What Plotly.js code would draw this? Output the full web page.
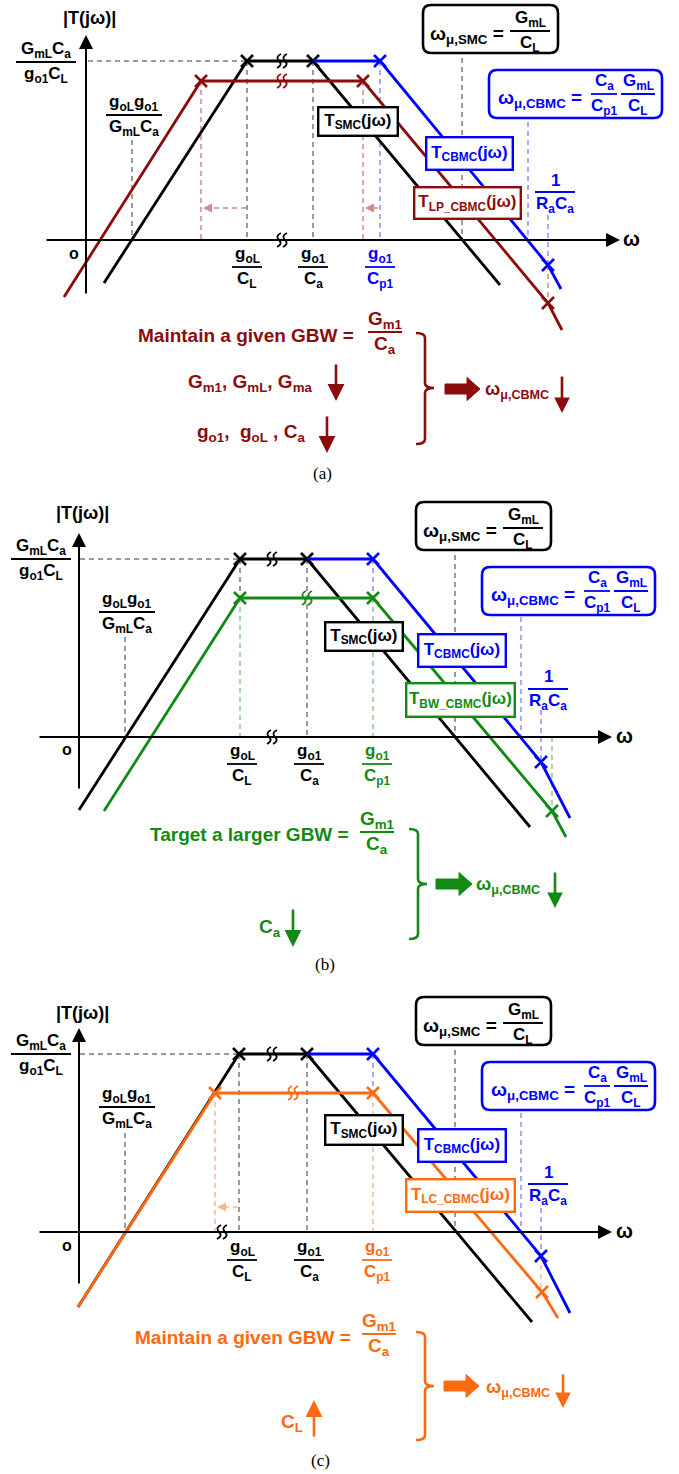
<!DOCTYPE html>
<html><head><meta charset="utf-8">
<script src="https://cdn.plot.ly/plotly-3.0.1.min.js"></script>
<style>html,body{margin:0;padding:0;background:#fff}#chart{width:679px;height:1474px}</style>
</head><body><div id="chart"></div>
<script>
const FONT = 'Liberation Sans Narrow, Liberation Sans, Arial, sans-serif';
const SERIF = 'Liberation Serif, Times New Roman, serif';

const K = '#000000', GRAY = '#7a7a7a';
const BLUE = '#0000ff', BLUE_L = '#8c8cff';
const RED = '#8c0c0c', RED_L = '#cc8c8c';
const GREEN = '#138a13', GREEN_L = '#8ccc8c';
const ORANGE = '#ff6a10', ORANGE_L = '#ffb48c';

// Asymptotic |T(jw)| curves: corner points, x = log-frequency units from the |T| axis,
// y = magnitude units above the w axis.
// (a) low-power design
const smcA_x = [18, 161, 227, 414];
const smcA_y = [-43, 179, 179, -45];
const cbmcA_x = [227, 294, 462, 475];
const cbmcA_y = [179, 179, -25, -49];
const lpA_x = [-22, 115, 277, 462, 476];
const lpA_y = [-57, 159, 159, -63, -90];
// (b) larger bandwidth
const smcB_x = [0, 161, 228, 451];
const smcB_y = [-73, 178, 178, -90];
const cbmcB_x = [228, 294, 462, 491];
const cbmcB_y = [178, 178, -25, -81];
const bwB_x = [25, 161, 294, 473, 487];
const bwB_y = [-74, 139, 139, -74, -100];
// (c) large load capacitance
const smcC_x = [-1, 160, 228, 453];
const smcC_y = [-75, 178, 178, -90];
const cbmcC_x = [228, 294, 462, 491];
const cbmcC_y = [178, 178, -24, -81];
const lcC_x = [-1, 136, 294, 463, 479];
const lcC_y = [-75, 139, 139, -60, -86];

// axis labels
const yTickNum = 'G<sub>mL</sub>C<sub>a</sub>', yTickDen = 'g<sub>o1</sub>C<sub>L</sub>';
const zeroNum = 'g<sub>oL</sub>g<sub>o1</sub>', zeroDen = 'G<sub>mL</sub>C<sub>a</sub>';
const xTickNum = ['g<sub>oL</sub>', 'g<sub>o1</sub>', 'g<sub>o1</sub>'];
const xTickDen = ['C<sub>L</sub>', 'C<sub>a</sub>', 'C<sub>p1</sub>'];
const curveNames = ['T<sub>SMC</sub>(jω)', 'T<sub>CBMC</sub>(jω)', 'T<sub>LP_CBMC</sub>(jω)', 'T<sub>BW_CBMC</sub>(jω)', 'T<sub>LC_CBMC</sub>(jω)'];

const traces = [], shapes = [], annos = [];
const xr = p => p === 1 ? 'x' : 'x' + p;
const yr = p => p === 1 ? 'y' : 'y' + p;

function seg(p, x0, y0, x1, y1, color, width, dash, layer) {
  shapes.push({type: 'line', xref: xr(p), yref: yr(p), x0, y0, x1, y1,
    line: {color, width, dash: dash || 'solid'}, layer: layer || 'below'});
}
function guide(p, x0, y0, x1, y1, color) { seg(p, x0, y0, x1, y1, color, 1.5, '5px,4px'); }
function label(p, x, y, t, size, color, extra) {
  annos.push(Object.assign({xref: xr(p), yref: yr(p), x, y, text: t, showarrow: false,
    font: {family: FONT, size, color}, xanchor: 'center', yanchor: 'middle'}, extra || {}));
}
function frac(p, xc, yl, num, den, color, size, hw) {
  label(p, xc, yl + 12, '<b>' + num + '</b>', size, color);
  label(p, xc, yl - 13, '<b>' + den + '</b>', size, color);
  seg(p, xc - hw, yl, xc + hw, yl, color, 1.8, 'solid', 'above');
}
function arrow(p, x0, y0, x1, y1, color, width, size) {
  annos.push({xref: xr(p), yref: yr(p), axref: xr(p), ayref: yr(p), x: x1, y: y1, ax: x0, ay: y0,
    text: '', showarrow: true, arrowhead: 2, arrowsize: size, arrowwidth: width, arrowcolor: color});
}
function dashArrow(p, x0, x1, y, color) {
  guide(p, x0, y, x1 + 4, y, color);
  arrow(p, x1 + 6, y, x1, y, color, 1.5, 1.2);
}
function curve(p, xs, ys, color, marks) {
  traces.push({x: xs, y: ys, xaxis: xr(p), yaxis: yr(p), mode: 'lines',
    line: {color, width: 2.8}, hoverinfo: 'skip', showlegend: false});
  traces.push({x: marks.map(i => xs[i]), y: marks.map(i => ys[i]), xaxis: xr(p), yaxis: yr(p),
    mode: 'markers', marker: {symbol: 'x-thin', size: 12, color, line: {width: 2.6, color}},
    hoverinfo: 'skip', showlegend: false});
}
function rrect(p, x0, y0, x1, y1, color) {
  const r = 8;
  const path = `M${x0 + r},${y0} L${x1 - r},${y0} Q${x1},${y0} ${x1},${y0 + r} L${x1},${y1 - r} Q${x1},${y1} ${x1 - r},${y1} ` +
    `L${x0 + r},${y1} Q${x0},${y1} ${x0},${y1 - r} L${x0},${y0 + r} Q${x0},${y0} ${x0 + r},${y0} Z`;
  shapes.push({type: 'path', xref: xr(p), yref: yr(p), path, line: {color, width: 2.6}, fillcolor: '#ffffff', layer: 'above'});
}
function boxLabel(p, x, y, w, h, t, color) {
  annos.push({xref: xr(p), yref: yr(p), x, y, text: '<b>' + t + '</b>', showarrow: false,
    font: {family: FONT, size: 17, color}, bgcolor: '#ffffff', bordercolor: color, borderwidth: 2.4,
    borderpad: 1, width: w - 5, height: h - 5, xanchor: 'center', yanchor: 'middle'});
}
function brace(p, x0, x1, tip, yt, ym, yb, color) {
  const r = 5;
  const path = `M${x0},${yt} Q${x1},${yt} ${x1},${yt - r} L${x1},${ym + r} Q${x1},${ym} ${tip},${ym} ` +
    `Q${x1},${ym} ${x1},${ym - r} L${x1},${yb + r} Q${x1},${yb} ${x0},${yb}`;
  shapes.push({type: 'path', xref: xr(p), yref: yr(p), path, line: {color, width: 2.6}, layer: 'above'});
}
function bigArrow(p, x0, x1, y, color) {
  const h = 5, H = 11.5, L = 13;
  const path = `M${x0},${y + h} L${x1 - L},${y + h} L${x1 - L},${y + H} L${x1},${y} L${x1 - L},${y - H} L${x1 - L},${y - h} L${x0},${y - h} Z`;
  shapes.push({type: 'path', xref: xr(p), yref: yr(p), path, fillcolor: color, line: {color, width: 1}, layer: 'above'});
}
function breakMark(p, cx, cy, color) {
  for (const dx of [-3, 3]) {
    const x = cx + dx;
    const path = `M${x + 2},${cy + 7} Q${x - 4},${cy + 4} ${x},${cy} Q${x + 4},${cy - 4} ${x - 2},${cy - 7}`;
    shapes.push({type: 'path', xref: xr(p), yref: yr(p), path, line: {color, width: 1.8}, layer: 'above'});
  }
}
function frame(p, xEnd, yLow, yTop, yLabel, yFracX) {
  arrow(p, -41, 0, xEnd, 0, K, 2, 1.4);
  arrow(p, 0, yLow, 0, yTop, K, 2, 1.4);
  label(p, 545, 1, '<b>ω</b>', 20, K);
  label(p, 3, yLabel, '<b>|T(jω)|</b>', 18, K);
  label(p, -12, -13, '<b>o</b>', 16, K);
  frac(p, yFracX, 178, yTickNum, yTickDen, K, 17, 30);
  frac(p, 48, 125, zeroNum, zeroDen, K, 17, 28);
}
function formulaBoxes(p) {
  rrect(p, 337, 187, 472, 235, K);
  label(p, 381, 205, '<b>ω<sub>μ,SMC</sub> =</b>', 19, K);
  frac(p, 444, 209, 'G<sub>mL</sub>', 'C<sub>L</sub>', K, 17, 20);
  rrect(p, 403, 122, 576, 170, BLUE);
  label(p, 454, 141, '<b>ω<sub>μ,CBMC</sub> =</b>', 19, BLUE);
  frac(p, 518, 146, 'C<sub>a</sub>', 'C<sub>p1</sub>', BLUE, 17, 13);
  frac(p, 552, 146, 'G<sub>mL</sub>', 'C<sub>L</sub>', BLUE, 17, 17);
  frac(p, 469, 48, '1', 'R<sub>a</sub>C<sub>a</sub>', BLUE, 17, 20);
}

/* ---------- (a) ---------- */
guide(1, 2, 179, 161, 179, GRAY);
guide(1, 46, 100, 46, 0, GRAY);
guide(1, 161, 179, 161, 0, GRAY);
guide(1, 227, 179, 227, 0, GRAY);
guide(1, 115, 159, 115, 0, RED_L);
guide(1, 277, 159, 277, 0, RED_L);
guide(1, 294, 179, 294, 0, BLUE_L);
guide(1, 376, 182, 376, 0, GRAY);
guide(1, 442, 118, 442, 0, BLUE_L);
guide(1, 462, 25, 462, -25, BLUE_L);
guide(1, 462, -25, 462, -63, RED_L);
dashArrow(1, 160, 117, 32, RED_L);
dashArrow(1, 292, 279, 32, RED_L);
curve(1, smcA_x, smcA_y, K, [1, 2]);
curve(1, cbmcA_x, cbmcA_y, BLUE, [1, 2]);
curve(1, lpA_x, lpA_y, RED, [1, 2, 3]);
breakMark(1, 196, 179, K);
breakMark(1, 196, 159, RED);
breakMark(1, 196, 0, K);
frame(1, 534, -55, 205, 222, -40);
[[161, K], [227, K], [294, BLUE]].forEach((t, i) => frac(1, t[0], -27, xTickNum[i], xTickDen[i], t[1], 17, 15));
formulaBoxes(1);
boxLabel(1, 272, 118.5, 80, 29, curveNames[0], K);
boxLabel(1, 383.5, 86.5, 87, 33, curveNames[1], BLUE);
boxLabel(1, 381.5, 37, 107, 32, curveNames[2], RED);
label(1, 160, -95, '<b>Maintain a given GBW =</b>', 19, RED);
frac(1, 299, -92, 'G<sub>m1</sub>', 'C<sub>a</sub>', RED, 19, 17);
label(1, 164, -143, '<b>G<sub>m1</sub>, G<sub>mL</sub>, G<sub>ma</sub></b>', 19, RED);
arrow(1, 250, -123, 250, -161, RED, 2.6, 1.3);
label(1, 165, -193, '<b>g<sub>o1</sub>,  g<sub>oL</sub> , C<sub>a</sub></b>', 19, RED);
arrow(1, 241, -175, 241, -213, RED, 2.6, 1.3);
brace(1, 330, 339, 348, -93, -148, -204, RED);
bigArrow(1, 359, 394, -149, RED);
label(1, 431, -150, '<b>ω<sub>μ,CBMC</sub></b>', 18, RED);
arrow(1, 476, -135, 476, -173, RED, 2.6, 1.2);
label(1, 236, -233, '(a)', 17, K, {font: {family: SERIF, size: 17, color: K}});

/* ---------- (b) ---------- */
guide(2, 1, 178, 161, 178, GRAY);
guide(2, 46, 100, 46, 0, GRAY);
guide(2, 161, 178, 161, 139, GRAY);
guide(2, 161, 139, 161, 0, GREEN_L);
guide(2, 228, 178, 228, 0, GRAY);
guide(2, 294, 178, 294, 139, BLUE_L);
guide(2, 294, 139, 294, 0, GREEN_L);
guide(2, 376, 182, 376, 0, GRAY);
guide(2, 442, 120, 442, 0, BLUE_L);
guide(2, 462, 27, 462, -25, BLUE_L);
guide(2, 473, 0, 473, -74, GREEN_L);
curve(2, smcB_x, smcB_y, K, [1, 2]);
curve(2, cbmcB_x, cbmcB_y, BLUE, [1, 2]);
curve(2, bwB_x, bwB_y, GREEN, [1, 2, 3]);
breakMark(2, 193, 178, K);
breakMark(2, 228, 139, GREEN);
breakMark(2, 193, 0, K);
frame(2, 533, -53, 204, 224, -38);
[[163, K], [230, K], [298, GREEN]].forEach((t, i) => frac(2, t[0], -27, xTickNum[i], xTickDen[i], t[1], 17, 15));
formulaBoxes(2);
boxLabel(2, 285, 100.5, 78, 29, curveNames[0], K);
boxLabel(2, 383, 86.5, 88, 33, curveNames[1], BLUE);
boxLabel(2, 381.5, 37, 109, 34, curveNames[3], GREEN);
label(2, 170, -98, '<b>Target a larger GBW =</b>', 19, GREEN);
frac(2, 298, -95, 'G<sub>m1</sub>', 'C<sub>a</sub>', GREEN, 19, 17);
label(2, 191, -191, '<b>C<sub>a</sub></b>', 19, GREEN);
arrow(2, 214, -171, 214, -210, GREEN, 2.6, 1.3);
brace(2, 330, 339, 348, -92, -147, -202, GREEN);
bigArrow(2, 357, 393, -147, GREEN);
label(2, 429, -149, '<b>ω<sub>μ,CBMC</sub></b>', 18, GREEN);
arrow(2, 476, -134, 476, -171, GREEN, 2.6, 1.2);
label(2, 246, -228, '(b)', 17, K, {font: {family: SERIF, size: 17, color: K}});

/* ---------- (c) ---------- */
guide(3, 1, 178, 160, 178, GRAY);
guide(3, 46, 99, 46, 0, GRAY);
guide(3, 136, 139, 136, 0, ORANGE_L);
guide(3, 160, 178, 160, 0, GRAY);
guide(3, 228, 178, 228, 0, GRAY);
guide(3, 294, 178, 294, 139, BLUE_L);
guide(3, 294, 139, 294, 0, ORANGE_L);
guide(3, 376, 182, 376, 0, GRAY);
guide(3, 442, 119, 442, 0, BLUE_L);
guide(3, 462, 24, 462, -24, BLUE_L);
guide(3, 462, -24, 462, -60, ORANGE_L);
dashArrow(3, 159, 138, 25, ORANGE_L);
curve(3, smcC_x, smcC_y, K, [1, 2]);
curve(3, cbmcC_x, cbmcC_y, BLUE, [1, 2]);
curve(3, lcC_x, lcC_y, ORANGE, [1, 2, 3]);
breakMark(3, 193, 178, K);
breakMark(3, 214, 139, ORANGE);
breakMark(3, 143, 0, K);
frame(3, 533, -53, 204, 219, -38);
[[163, K], [230, K], [298, ORANGE]].forEach((t, i) => frac(3, t[0], -28, xTickNum[i], xTickDen[i], t[1], 17, 15));
formulaBoxes(3);
boxLabel(3, 285, 102, 78, 30, curveNames[0], K);
boxLabel(3, 383, 86.5, 88, 33, curveNames[1], BLUE);
boxLabel(3, 381.5, 36.5, 109, 33, curveNames[4], ORANGE);
label(3, 164, -105, '<b>Maintain a given GBW =</b>', 19, ORANGE);
frac(3, 300, -102, 'G<sub>m1</sub>', 'C<sub>a</sub>', ORANGE, 19, 17);
label(3, 213, -191, '<b>C<sub>L</sub></b>', 19, ORANGE);
arrow(3, 235, -206, 235, -168, ORANGE, 2.6, 1.3);
brace(3, 337, 346, 355, -100, -154, -208, ORANGE);
bigArrow(3, 365, 400, -154, ORANGE);
label(3, 439, -156, '<b>ω<sub>μ,CBMC</sub></b>', 18, ORANGE);
arrow(3, 484, -141, 484, -176, ORANGE, 2.6, 1.2);
label(3, 241, -228, '(c)', 17, K, {font: {family: SERIF, size: 17, color: K}});

// one unit = one pixel in every panel
const H = 1474;
const hidden = {visible: false, fixedrange: true, showgrid: false, zeroline: false};
const layout = {
  width: 679, height: H, margin: {l: 0, r: 0, t: 0, b: 0},
  paper_bgcolor: '#ffffff', plot_bgcolor: 'rgba(0,0,0,0)', hovermode: false, showlegend: false,
  xaxis: Object.assign({domain: [0, 1], range: [-86, 593], anchor: 'y'}, hidden),
  yaxis: Object.assign({domain: [1 - 490 / H, 1], range: [-250, 240], anchor: 'x'}, hidden),
  xaxis2: Object.assign({domain: [0, 1], range: [-79, 600], anchor: 'y2'}, hidden),
  yaxis2: Object.assign({domain: [1 - 980 / H, 1 - 490 / H], range: [-243, 247], anchor: 'x2'}, hidden),
  xaxis3: Object.assign({domain: [0, 1], range: [-79, 600], anchor: 'y3'}, hidden),
  yaxis3: Object.assign({domain: [0, 1 - 980 / H], range: [-242, 252], anchor: 'x3'}, hidden),
  shapes, annotations: annos
};
Plotly.newPlot('chart', traces, layout, {staticPlot: true, displayModeBar: false});
</script>
</body></html>
